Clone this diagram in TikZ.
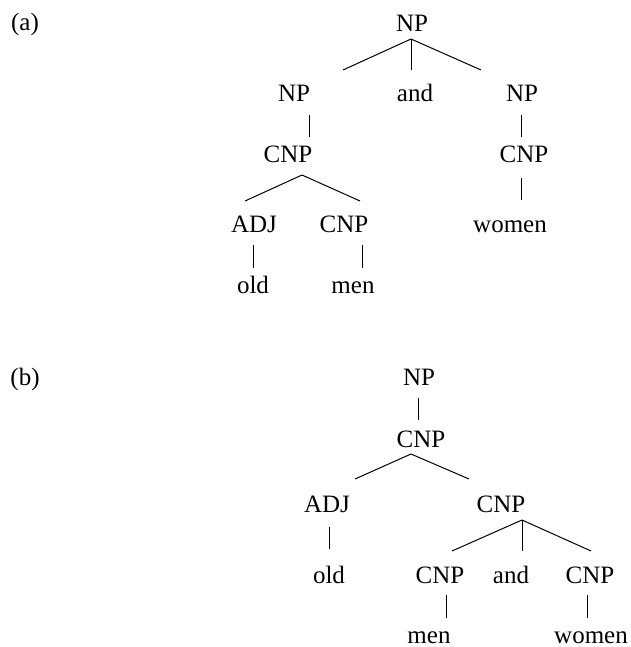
\documentclass[tikz,border=0pt]{standalone}
\usepackage{fontspec}
\setmainfont{Liberation Serif}
\usepackage{tikz}
\tikzset{cat/.style={anchor=base, inner sep=0pt, font=\fontsize{25}{30}\selectfont}}
\begin{document}
\begin{tikzpicture}[x=1pt, y=-1pt, line width=1pt]
\useasboundingbox (0,0) rectangle (630,647);
% tree (a)
\node[cat] (la) at (25,31) {(a)};
\node[cat] (a-np) at (412,31.7) {NP};
\node[cat] (a-npl) at (294,102) {NP};
\node[cat] (a-and) at (415,102) {and};
\node[cat] (a-npr) at (522,102) {NP};
\node[cat] (a-cnpl) at (288,163) {CNP};
\node[cat] (a-cnpr) at (524,163) {CNP};
\node[cat] (a-adj) at (254,232) {ADJ};
\node[cat] (a-cnpm) at (344,232) {CNP};
\node[cat] (a-women) at (510,232) {women};
\node[cat] (a-old) at (253,293) {old};
\node[cat] (a-men) at (353,293) {men};
\coordinate (a1) at (411,39);
\coordinate (a1l) at (343,70);
\coordinate (a1m) at (411,70);
\coordinate (a1r) at (481,70);
\coordinate (a2) at (302,175);
\coordinate (a2l) at (245,201);
\coordinate (a2r) at (360,201);
\coordinate (v1t) at (309,115); \coordinate (v1b) at (309,137);
\coordinate (v2t) at (521,115); \coordinate (v2b) at (521,137);
\coordinate (v3t) at (521,178); \coordinate (v3b) at (521,200);
\coordinate (v4t) at (253,245); \coordinate (v4b) at (253,268);
\coordinate (v5t) at (362,245); \coordinate (v5b) at (362,268);
\path[draw]
(a1) edge (a1l) edge (a1m) edge (a1r)
(v1t) edge (v1b)
(v2t) edge (v2b)
(a2) edge (a2l) edge (a2r)
(v3t) edge (v3b)
(v4t) edge (v4b)
(v5t) edge (v5b)
;
% tree (b)
\node[cat] (lb) at (25,385) {(b)};
\node[cat] (b-np) at (419,385) {NP};
\node[cat] (b-cnp) at (421,447) {CNP};
\node[cat] (b-adj) at (327,512) {ADJ};
\node[cat] (b-cnpr) at (501,512) {CNP};
\node[cat] (b-old) at (329,583) {old};
\node[cat] (b-cnpa) at (440,583) {CNP};
\node[cat] (b-and) at (511,583) {and};
\node[cat] (b-cnpb) at (590,583) {CNP};
\node[cat] (b-men) at (429,643) {men};
\node[cat] (b-women) at (591,643) {women};
\coordinate (b1) at (411,454);
\coordinate (b1l) at (355,479);
\coordinate (b1r) at (469,479);
\coordinate (b2) at (522,520);
\coordinate (b2l) at (452,551);
\coordinate (b2m) at (522,551);
\coordinate (b2r) at (591,551);
\coordinate (w1t) at (418,398); \coordinate (w1b) at (418,420);
\coordinate (w2t) at (329,527); \coordinate (w2b) at (329,549);
\coordinate (w3t) at (446,595); \coordinate (w3b) at (446,618);
\coordinate (w4t) at (587,595); \coordinate (w4b) at (587,618);
\path[draw]
(w1t) edge (w1b)
(b1) edge (b1l) edge (b1r)
(w2t) edge (w2b)
(b2) edge (b2l) edge (b2m) edge (b2r)
(w3t) edge (w3b)
(w4t) edge (w4b)
;
\end{tikzpicture}
\end{document}
